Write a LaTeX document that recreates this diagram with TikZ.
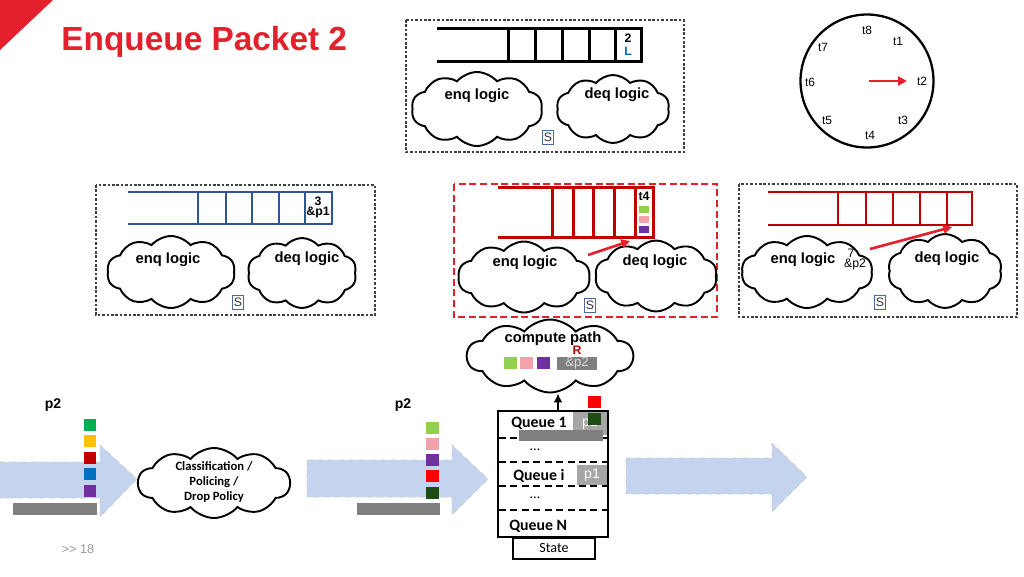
\documentclass[tikz,border=0pt]{standalone}
\usepackage{fontspec}
\setmainfont{Liberation Sans}
\newfontfamily\calib{Carlito}
\usetikzlibrary{shapes.symbols,arrows.meta}
\definecolor{titlered}{HTML}{E3202B}
\definecolor{qred}{HTML}{C00000}
\definecolor{qblue}{HTML}{2F5597}
\definecolor{flowblue}{HTML}{C5D4EE}
\definecolor{sblue}{HTML}{4A6A9A}
\definecolor{pktgreen}{HTML}{00B050}
\definecolor{pktyellow}{HTML}{FFC000}
\definecolor{pktblue}{HTML}{0070C0}
\definecolor{pktpurple}{HTML}{7030A0}
\definecolor{pktlime}{HTML}{92D050}
\definecolor{pktpink}{HTML}{F2A2AA}
\definecolor{pktdark}{HTML}{1E4D14}
\definecolor{pktgray}{HTML}{808080}
\definecolor{pktlight}{HTML}{A6A6A6}
\begin{document}
\begin{tikzpicture}[x=0.02cm,y=-0.02cm,
  lbl/.style={font=\fontsize{8.4}{10}\selectfont\bfseries, inner sep=0pt},
  tinylbl/.style={font=\fontsize{7}{8}\selectfont\bfseries, inner sep=0pt},
  clk/.style={font=\fontsize{6.8}{8}\selectfont, inner sep=0pt},
  cloudy/.style={cloud, cloud puffs=10, cloud puff arc=100, cloud ignores aspect, draw, line width=1.1pt, inner sep=0pt},
  panel/.style={draw=black!75, dash pattern=on 1.5pt off 1pt, line width=0.6pt},
  redpanel/.style={draw=titlered, dash pattern=on 4pt off 2pt, line width=1.3pt},
  sbox/.style={draw=sblue, line width=0.5pt, text=black!80, font=\fontsize{7}{8}\selectfont, inner sep=0pt, minimum width=0.22cm, minimum height=0.28cm},
  sq/.style={minimum width=0.26cm, minimum height=0.24cm, inner sep=0pt},
  minisq/.style={minimum width=0.19cm, minimum height=0.15cm, inner sep=0pt},
  flow/.style={fill=flowblue, draw=black!20, dashed, line width=0.4pt},
  qsep/.style={dash pattern=on 4pt off 2.5pt, line width=1.5pt},
  qlbl/.style={font=\calib\fontsize{9}{10}\selectfont\bfseries, inner sep=0pt, anchor=west},
  redarr/.style={draw=titlered, line width=1.5pt, -{Triangle[length=5pt,width=5pt]}}]
\useasboundingbox (0,0) rectangle (1024,576);
\fill[titlered] (0,0) -- (53,0) -- (0,50) -- cycle;
\node[anchor=base west, text=titlered, font=\fontsize{19}{22}\selectfont\bfseries, inner sep=0pt] (title) at (61,50) {Enqueue Packet 2};

\draw[panel] (406,20) rectangle (684,152);
\draw[line width=1.7pt] (437,28) -- (641,28) -- (641,61) -- (437,61);
\foreach \x in {508,535,562,589,615} \draw[line width=1.7pt] (\x,28) -- (\x,61);
\node[tinylbl] (topn) at (628,38) {2};
\node[tinylbl, text=pktblue] (topl) at (628,51) {L};
\node[cloudy, minimum width=2.62cm, minimum height=1.48cm] (enqT) at (477,109) {};
\node[lbl] (enqTt) at (477,96) {enq logic};
\node[cloudy, minimum width=2.26cm, minimum height=1.36cm] (deqT) at (613,109) {};
\node[lbl] (deqTt) at (617,95) {deq logic};
\node[sbox] (sT) at (548,137) {S};

\node[draw, circle, line width=1.3pt, minimum size=2.66cm, inner sep=0pt] (clock) at (867,81) {};
\node[clk] (c8) at (867,30) {t8};
\node[clk] (c1) at (898,41) {t1};
\node[clk] (c2) at (922,81) {t2};
\node[clk] (c3) at (903,120) {t3};
\node[clk] (c4) at (870,135) {t4};
\node[clk] (c5) at (827,120) {t5};
\node[clk] (c6) at (810,82) {t6};
\node[clk] (c7) at (823,47) {t7};
\coordinate (hand) at (907,81);
\draw[redarr, line width=1.3pt] ([xshift=1pt]clock.center) -- (hand);

\draw[panel] (96,185) rectangle (375,315);
\draw[qblue, line width=1.5pt] (128,192) -- (332,192) -- (332,224) -- (128,224);
\foreach \x in {198,226,252,279,305} \draw[qblue, line width=1.5pt] (\x,192) -- (\x,224);
\node[tinylbl] (lq3) at (318,201) {3};
\node[tinylbl] (lqp) at (318,213) {\&p1};
\node[cloudy, minimum width=2.56cm, minimum height=1.44cm] (enqL) at (171,272) {};
\node[lbl] (enqLt) at (168,260) {enq logic};
\node[cloudy, minimum width=2.18cm, minimum height=1.4cm] (deqL) at (302,273) {};
\node[lbl] (deqLt) at (307,259) {deq logic};
\node[sbox] (sL) at (238,302) {S};

\draw[redpanel] (454,184) rectangle (717,317);
\draw[qred, line width=1.7pt] (498,187) -- (653,187) -- (653,237) -- (498,237);
\foreach \x in {552,573,593,614,635} \draw[qred, line width=1.7pt] (\x,187) -- (\x,237);
\node[tinylbl] (mt4) at (644,196) {t4};
\node[minisq, fill=pktlime] (ms1) at (644,209.5) {};
\node[minisq, fill=pktpink] (ms2) at (644,219.5) {};
\node[minisq, fill=pktpurple] (ms3) at (644,229.5) {};
\node[cloudy, minimum width=2.64cm, minimum height=1.42cm] (enqM) at (524,277) {};
\node[lbl] (enqMt) at (525,263) {enq logic};
\node[cloudy, minimum width=2.44cm, minimum height=1.42cm] (deqM) at (656,276) {};
\node[lbl] (deqMt) at (655,262) {deq logic};
\node[sbox] (sM) at (590,305) {S};
\coordinate (mA) at (588,255);
\coordinate (mB) at (630,241);
\draw[redarr] (mA) -- (mB);

\draw[panel] (739,184) rectangle (1017,317);
\draw[qred, line width=1.5pt] (768,192) -- (972,192) -- (972,225) -- (768,225);
\foreach \x in {838,866,893,920,947} \draw[qred, line width=1.5pt] (\x,192) -- (\x,225);
\node[cloudy, minimum width=2.62cm, minimum height=1.44cm] (enqR) at (807,272) {};
\node[lbl] (enqRt) at (803,260) {enq logic};
\node[clk, font=\fontsize{7}{8}\selectfont] (r7) at (851,253) {7};
\node[clk, font=\fontsize{7}{8}\selectfont] (rp2) at (855,264) {\&p2};
\node[cloudy, minimum width=2.28cm, minimum height=1.48cm] (deqR) at (945,271) {};
\node[lbl] (deqRt) at (947,259) {deq logic};
\node[sbox] (sR) at (880,302) {S};
\coordinate (rA) at (870,249);
\coordinate (rB) at (952,227);
\draw[redarr] (rA) -- (rB);

\node[cloudy, fill=white, minimum width=3.32cm, minimum height=1.46cm] (cp) at (550,356) {};
\node[lbl] (cpt) at (553,339) {compute path};
\node[sq, fill=pktlime] (cp1) at (510,363) {};
\node[sq, fill=pktpink] (cp2) at (526,363) {};
\node[sq, fill=pktpurple] (cp3) at (543,363) {};
\node[fill=pktgray, text=black!15, font=\fontsize{7.5}{8}\selectfont, minimum width=0.8cm, minimum height=0.26cm, inner sep=0pt] (cpp) at (577,363) {\&p2};
\node[tinylbl, text=qred] (cpr) at (577,350) {R};

\path[flow] (0,462) -- (100,462) -- (100,445) -- (137,479) -- (100,517) -- (100,498) -- (0,498) -- cycle;
\path[flow] (307,460) -- (452,460) -- (452,445) -- (488,479) -- (452,515) -- (452,497) -- (307,497) -- cycle;
\path[flow] (626,458) -- (772,458) -- (772,443) -- (807,477) -- (772,512) -- (772,494) -- (626,494) -- cycle;

\node[lbl, font=\fontsize{8}{10}\selectfont\bfseries] (p2a) at (53,405) {p2};
\foreach \c [count=\i] in {pktgreen,pktyellow,qred,pktblue,pktpurple}
  \node[sq, fill=\c] (a\i) at (90,{425+16.4*(\i-1)}) {};
\fill[pktgray] (13,503) rectangle (97,515);

\node[cloudy, minimum width=3.04cm, minimum height=1.4cm] (cls) at (214,483) {};
\node[font=\calib\fontsize{7.2}{8.6}\selectfont\bfseries, align=center, inner sep=0pt] (clst) at (214,482) {Classification /\\Policing /\\Drop Policy};

\node[lbl, font=\fontsize{8}{10}\selectfont\bfseries] (p2b) at (403,405) {p2};
\foreach \c [count=\i] in {pktlime,pktpink,pktpurple,red,pktdark}
  \node[sq, fill=\c] (b\i) at (432,{427.5+16.3*(\i-1)}) {};
\fill[pktgray] (357,503) rectangle (440,515);

\node[fill=pktlight, text=white, font=\fontsize{8}{9}\selectfont, minimum width=0.7cm, minimum height=0.46cm, inner sep=0pt] (qp2) at (590,423) {p2};
\node[fill=pktlight, text=white, font=\fontsize{8}{9}\selectfont, minimum width=0.62cm, minimum height=0.4cm, inner sep=0pt] (qp1) at (592,475) {p1};
\node[draw, line width=1.5pt, minimum width=2.2cm, minimum height=2.52cm, inner sep=0pt] (qs) at (553,474) {};
\draw[qsep] (499,438) -- (607,438);
\draw[qsep] (499,462) -- (607,462);
\draw[qsep] (499,486) -- (607,486);
\draw[qsep] (499,510) -- (607,510);
\fill[pktgray] (519,430) rectangle (603,441);
\node[sq, fill=red] (rs) at (594,402) {};
\node[sq, fill=pktdark] (gs) at (594,419) {};
\node[qlbl] (q1) at (511,423) {Queue 1};
\node[font=\calib\fontsize{8}{9}\selectfont, inner sep=0pt] (d1) at (535,450) {\dots};
\node[qlbl] (qi) at (513,476) {Queue i};
\node[font=\calib\fontsize{8}{9}\selectfont, inner sep=0pt] (d2) at (535,498) {\dots};
\node[qlbl] (qn) at (509,526) {Queue N};
\node[draw, line width=1.1pt, anchor=north, font=\calib\fontsize{8}{9}\selectfont, minimum width=1.64cm, minimum height=0.42cm, inner sep=0pt] (st) at (554,537) {State};
\coordinate (qtop) at (558,411);
\draw[line width=1.2pt, -{Latex[length=5pt,width=5pt]}] (qtop) -- (qtop |- cp.south);

\node[font=\fontsize{7.2}{8}\selectfont, text=black!40, inner sep=0pt] (pg) at (78,549) {>{}> 18};
\end{tikzpicture}
\end{document}
